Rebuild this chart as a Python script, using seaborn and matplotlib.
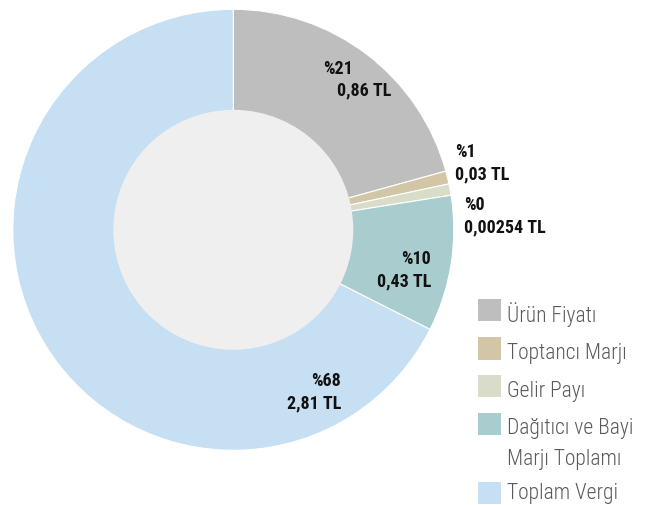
import matplotlib
matplotlib.use("Agg")
import matplotlib.pyplot as plt
import seaborn as sns
from matplotlib.patches import Circle, Rectangle

# ---- data ----
categories = ["Ürün Fiyatı", "Toptancı Marjı", "Gelir Payı", "Dağıtıcı ve Bayi\nMarjı Toplamı", "Toplam Vergi"]
# slice shares as drawn in the picture (percent of the ring)
slice_shares = [20.7, 0.95, 0.83, 9.96, 67.5]
pct_labels = ["%21", "%1", "%0", "%10", "%68"]
tl_labels = ["0,86 TL", "0,03 TL", "0,00254 TL", "0,43 TL", "2,81 TL"]
colors = ["#bebebf", "#d3c6a6", "#d9dcc8", "#a9cccf", "#c6dff3"]

sns.set_theme(style="white")
plt.rcParams["font.family"] = ["Roboto Condensed", "DejaVu Sans"]

W, H = 663, 506
fig = plt.figure(figsize=(W / 100, H / 100), dpi=100)
ax = fig.add_axes([0, 0, 1, 1])

cx, cy, R = 233.3, H - 230.8, 220.5
wedges, _ = ax.pie(slice_shares, colors=colors, startangle=90, counterclock=False,
                   center=(cx, cy), radius=R, frame=True,
                   wedgeprops=dict(edgecolor="white", linewidth=0.8))
ax.set_xlim(0, W)
ax.set_ylim(0, H)
ax.set_aspect("equal")
ax.axis("off")
ax.add_patch(Circle((cx, cy), 120, facecolor="#efefef", edgecolor="none", zorder=5))

# ---- slice labels (pixel positions from the reference) ----
lab_style = dict(fontsize=13, fontweight="bold", color="#111111", zorder=6, va="baseline")
label_pos = [
    # (x_pct, y_pct, ha_pct, x_tl, y_tl, ha_tl)
    (323, 73.5, "left", 337, 95.5, "left"),
    (455, 157, "left", 455, 179, "left"),
    (464, 210, "left", 464, 232, "left"),
    (431, 264, "right", 431, 286, "right"),
    (341, 386, "right", 341, 408, "right"),
]
for i, (xp, yp, hp, xt, yt, ht) in enumerate(label_pos):
    ax.text(xp, H - yp, pct_labels[i], ha=hp, **lab_style)
    ax.text(xt, H - yt, tl_labels[i], ha=ht, **lab_style)

# ---- legend ----
sq = 22.4
leg_tops = [300, 338.3, 376, 414, 482.7]
leg_baselines = [[321.7], [358.5], [396.7], [434.5, 465.5], [499.5]]
for i, cat in enumerate(categories):
    top = leg_tops[i]
    ax.add_patch(Rectangle((478.3, H - top - sq), sq, sq, facecolor=colors[i], edgecolor="none"))
    for line, base in zip(cat.split("\n"), leg_baselines[i]):
        ax.text(507, H - base, line, fontsize=15.5, color="#5a5a5a",
                ha="left", va="baseline", fontweight="light")

fig.savefig("out.png", dpi=100, facecolor="white")
